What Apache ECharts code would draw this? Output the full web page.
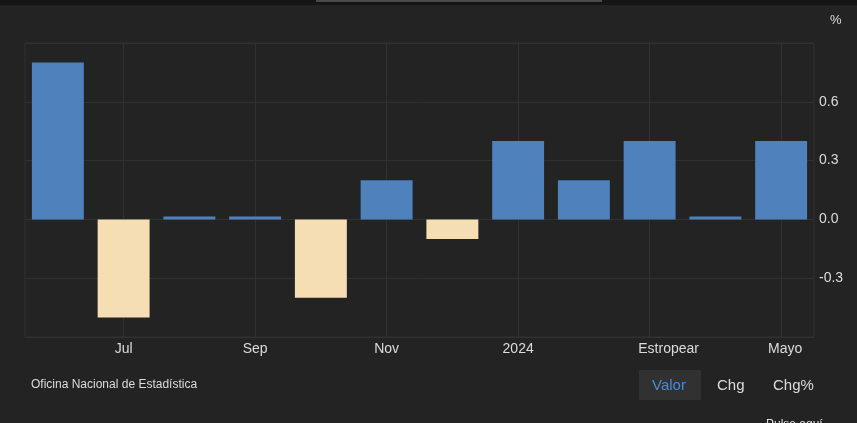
<!DOCTYPE html>
<html>
<head>
<meta charset="utf-8">
<script src="https://cdn.jsdelivr.net/npm/echarts@6/dist/echarts.min.js"></script>
<style>
html,body{margin:0;padding:0;background:#232323;}
#c{width:857px;height:423px;}
</style>
</head>
<body>
<div id="c"></div>
<script>
const categories = ['Jun','Jul','Ago','Sep','Oct','Nov','Dic','2024','Feb','Estropear','Abr','Mayo'];
const values = [0.8, -0.5, 0.0, 0.0, -0.4, 0.2, -0.1, 0.4, 0.2, 0.4, 0.0, 0.4];
const gridCategories = ['Jul','Sep','Nov','2024','Estropear','Mayo'];
const yMin = -0.6, yMax = 0.9, yStep = 0.3;

const FONT = '"Liberation Sans", Arial, sans-serif';
const chart = echarts.init(document.getElementById('c'), null, {renderer:'canvas'});
chart.setOption({
  backgroundColor: '#232323',
  animation: false,
  grid: {left: 25, right: 43, top: 43, bottom: 86, show: true, borderColor: '#313131', borderWidth: 1, backgroundColor: 'transparent'},
  xAxis: {
    type: 'category',
    data: categories,
    boundaryGap: true,
    axisLine: {show: false},
    axisTick: {show: false},
    splitLine: {show: false},
    axisLabel: {
      interval: function(i){ return i % 2 === 1; },
      color: '#dcdcdc', fontSize: 14, fontFamily: FONT, margin: 5,
      formatter: function(v){
        if (v === 'Estropear') return '{s38|' + v + '}';
        if (v === 'Mayo') return '{s8|' + v + '}';
        return v;
      },
      rich: {
        s38: {padding: [0,0,0,38], color: '#dcdcdc', fontSize: 14, fontFamily: FONT},
        s8: {padding: [0,0,0,8], color: '#dcdcdc', fontSize: 14, fontFamily: FONT}
      }
    }
  },
  yAxis: {
    type: 'value',
    position: 'right',
    min: yMin, max: yMax, interval: yStep,
    axisLine: {show: false},
    axisTick: {show: false},
    splitLine: {lineStyle: {color: '#313131', width: 1}},
    axisLabel: {
      showMinLabel: false, showMaxLabel: false,
      color: '#dcdcdc', fontSize: 14, fontFamily: FONT, margin: 5,
      formatter: function(v){ return v.toFixed(1); }
    }
  },
  series: [{
    type: 'bar',
    data: values,
    barWidth: '79%',
    barMinHeight: 3,
    z: 3,
    itemStyle: {
      color: function(p){ return p.value >= 0 ? '#4f81bd' : '#f5deb3'; }
    },
    markLine: {
      silent: true,
      symbol: 'none',
      z: 1,
      label: {show: false},
      lineStyle: {color: '#313131', type: 'solid', width: 1},
      data: gridCategories.map(c => ({xAxis: c}))
    }
  }],
  graphic: [
    {type: 'rect', left: 0, top: 0, shape: {width: 857, height: 5}, style: {fill: '#151515'}, silent: true},
    {type: 'rect', left: 316, top: 0, shape: {width: 286, height: 2}, style: {fill: '#4a4a4a'}, silent: true},
    {type: 'text', left: 830, top: 14, style: {text: '%', fill: '#dcdcdc', font: '13px ' + FONT}},
    {type: 'text', left: 31, top: 379, style: {text: 'Oficina Nacional de Estadística', fill: '#dcdcdc', font: '12px ' + FONT}},
    {type: 'rect', left: 639, top: 370, shape: {width: 62, height: 30}, style: {fill: '#313131'}},
    {type: 'text', left: 652, top: 378, style: {text: 'Valor', fill: '#3d8fe6', font: '15px ' + FONT}},
    {type: 'text', left: 717, top: 378, style: {text: 'Chg', fill: '#dcdcdc', font: '15px ' + FONT}},
    {type: 'text', left: 773, top: 378, style: {text: 'Chg%', fill: '#dcdcdc', font: '15px ' + FONT}},
    {type: 'text', left: 766, top: 419, style: {text: 'Pulse aquí...', fill: '#dcdcdc', font: '12px ' + FONT}}
  ]
});
</script>
</body>
</html>
